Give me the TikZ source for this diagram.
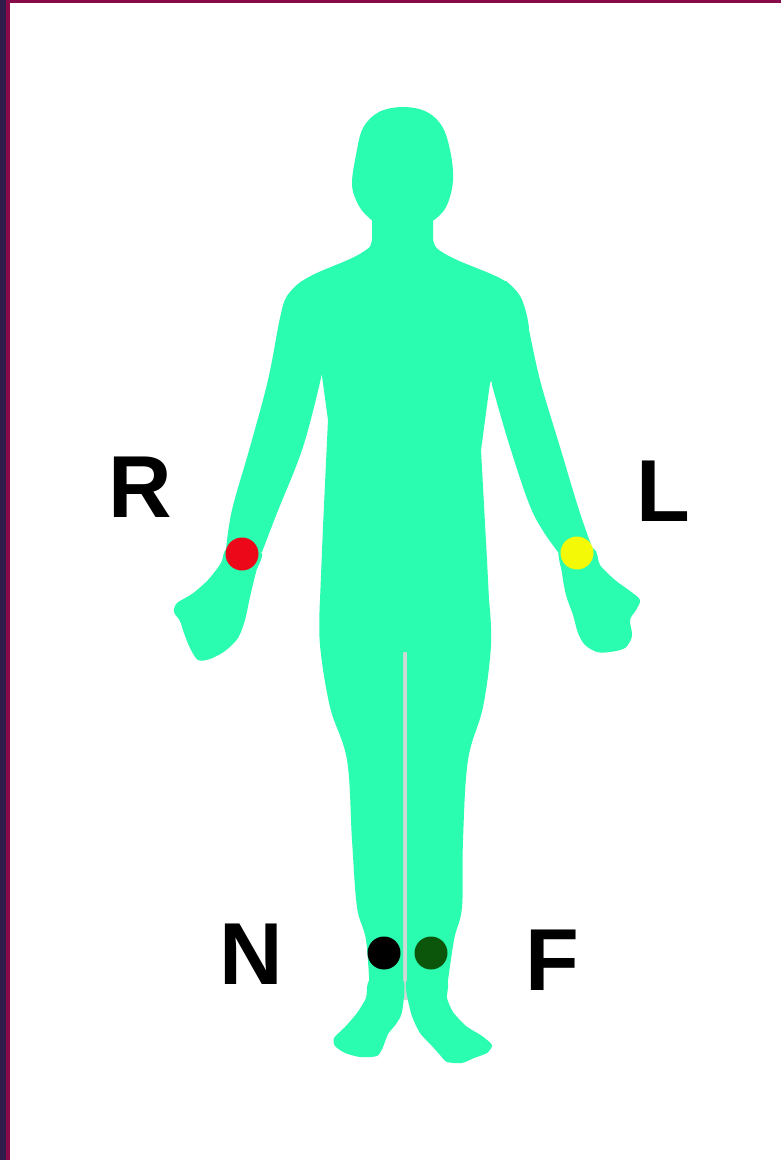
\documentclass[tikz,border=0pt]{standalone}
\usepackage{fontspec}
\setmainfont{Liberation Sans}
\definecolor{skin}{RGB}{42,252,176}
\definecolor{legslit}{RGB}{206,216,212}
\definecolor{edgepurple}{RGB}{48,28,74}
\definecolor{edgemagenta}{RGB}{136,10,72}
\definecolor{dotred}{RGB}{236,8,24}
\definecolor{dotyellow}{RGB}{244,250,6}
\definecolor{dotgreen}{RGB}{12,86,12}
\tikzset{
  bodypart/.style={fill=skin},
  electrode/.style={circle, inner sep=0pt, minimum size=33pt},
  leadlabel/.style={inner sep=0pt, font=\bfseries\fontsize{88}{88}\selectfont}
}
\begin{document}
\begin{tikzpicture}[x=1pt,y=-1pt]
\useasboundingbox (0,0) rectangle (781,1160);
\fill[white] (0,0) rectangle (781,1160);
% frame strips
\fill[edgemagenta] (0,0) rectangle (781,3);
\fill[edgepurple] (0,0) rectangle (6,1160);
\fill[edgemagenta] (6,0) rectangle (9.5,1160);

% slit between the legs
\fill[legslit] (402,650) rectangle (408,1000);

% head and neck
\fill[bodypart] plot[smooth cycle, tension=0.6] coordinates {(403,107) (427,112) (443,128) (451,155) (453,180) (449,200) (441,214) (425,225) (403,229) (380,225) (365,214) (356,200) (352,183) (356,155) (363,128) (379,112)};
\fill[bodypart] (372,205) -- (433,205) -- (433,240)
  .. controls (436,252) and (445,258) .. (460,262) -- (350,262)
  .. controls (362,258) and (370,252) .. (372,240) -- cycle;

% torso
\fill[bodypart] (372,245) .. controls (355,262) and (318,268) .. (298,284)
  .. controls (286,294) and (282,308) .. (281,322) -- (322,376) -- (328,420)
  -- (323,527) -- (320,600) -- (336,652) -- (474,652) -- (489,600)
  -- (487,560) -- (481,450) -- (490,383) -- (529,328)
  .. controls (526,305) and (520,292) .. (508,283)
  .. controls (490,270) and (450,262) .. (433,245) -- cycle;

% arms
\fill[bodypart] plot[smooth, tension=0.6] coordinates {(302,281) (287,296) (280,318) (268,380) (250,447) (232,510) (226,550)}
  -- plot[smooth, tension=0.6] coordinates {(262,552) (277,513) (303,447) (321,378)} -- (332,300) -- cycle;
\fill[bodypart] plot[smooth, tension=0.6] coordinates {(506,281) (520,296) (526,316) (540,380) (560,447) (579,510) (593,550)}
  -- plot[smooth, tension=0.6] coordinates {(558,552) (533,513) (510,447) (492,385)} -- (480,300) -- cycle;

% hands
\fill[bodypart] plot[smooth cycle, tension=0.5] coordinates {(228,548) (261,552) (256,572) (250,597) (245,620) (238,638) (225,651) (210,659) (198,660) (190,648) (184,633) (180,621) (174,612) (177,603) (192,594) (208,580) (221,563)};
\fill[bodypart] plot[smooth cycle, tension=0.5] coordinates {(560,548) (593,548) (600,565) (615,580) (630,591) (640,600) (636,610) (630,620) (632,636) (625,648) (610,652) (597,652) (585,645) (578,633) (573,615) (566,595) (562,573)};

% legs
\fill[bodypart] (403,600) -- (320,600) -- plot[smooth, tension=0.6] coordinates {(320,600) (320,645) (330,707) (347,760) (352,840) (357,907) (366,940) (370,995)} -- (403,995) -- cycle;
\fill[bodypart] (407,600) -- (489,600) -- plot[smooth, tension=0.6] coordinates {(489,600) (491,645) (483,707) (468,760) (463,840) (462,907) (454,940) (446,995)} -- (407,995) -- cycle;

% feet
\fill[bodypart] plot[smooth cycle, tension=0.4] coordinates {(370,980) (403,980) (402,1012) (396,1024) (388,1034) (383,1047) (377,1056) (360,1057) (345,1053) (335,1046) (334,1038) (345,1027) (357,1013) (366,998)};
\fill[bodypart] plot[smooth cycle, tension=0.4] coordinates {(407,980) (446,980) (447,998) (453,1012) (466,1026) (482,1036) (492,1045) (487,1053) (474,1058) (462,1063) (447,1062) (440,1055) (432,1046) (420,1033) (411,1013)};

% electrodes
\node[electrode, fill=dotred] (ra) at (242,554) {};
\node[electrode, fill=dotyellow] (la) at (577,553) {};
\node[electrode, fill=black] (rl) at (384,953) {};
\node[electrode, fill=dotgreen] (ll) at (431,953) {};

% lead labels
\node[leadlabel] (lr) at (140,487) {R};
\node[leadlabel] (ll2) at (663,491) {L};
\node[leadlabel] (ln) at (251,954) {N};
\node[leadlabel] (lf) at (552,960) {F};
\end{tikzpicture}
\end{document}
